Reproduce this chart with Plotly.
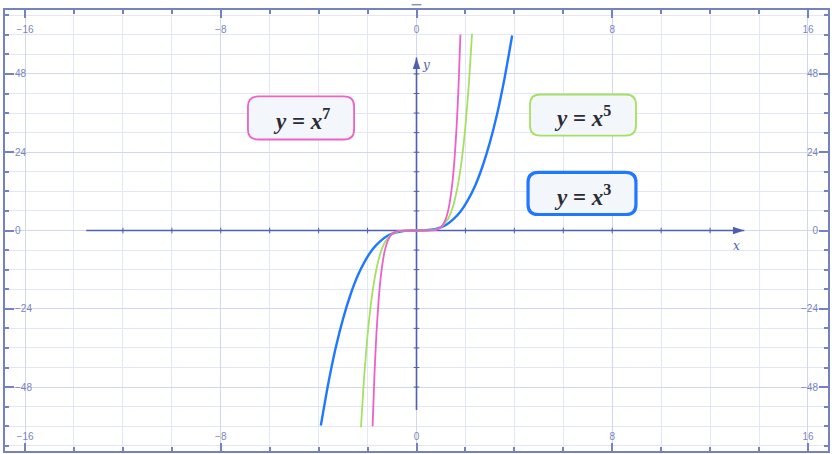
import plotly.graph_objects as go

# curve samples (x, y) for y = x^3, x^5, x^7
cube_x = [-3.91, -3.6, -3.3, -3.0, -2.7, -2.4, -2.1, -1.8, -1.5, -1.2, -0.9, -0.6, -0.3, 0.0,
          0.3, 0.6, 0.9, 1.2, 1.5, 1.8, 2.1, 2.4, 2.7, 3.0, 3.3, 3.6, 3.91]
cube_y = [-59.8, -46.7, -35.9, -27.0, -19.7, -13.8, -9.3, -5.8, -3.4, -1.7, -0.73, -0.22, -0.03, 0.0,
          0.03, 0.22, 0.73, 1.7, 3.4, 5.8, 9.3, 13.8, 19.7, 27.0, 35.9, 46.7, 59.8]

fifth_x = [-2.27, -2.15, -2.0, -1.85, -1.7, -1.5, -1.3, -1.0, -0.7, -0.4, 0.0,
           0.4, 0.7, 1.0, 1.3, 1.5, 1.7, 1.85, 2.0, 2.15, 2.27]
fifth_y = [-60.3, -45.9, -32.0, -21.7, -14.2, -7.6, -3.7, -1.0, -0.17, -0.01, 0.0,
           0.01, 0.17, 1.0, 3.7, 7.6, 14.2, 21.7, 32.0, 45.9, 60.3]

seventh_x = [-1.795, -1.72, -1.64, -1.55, -1.45, -1.3, -1.15, -1.0, -0.8, -0.5, 0.0,
             0.5, 0.8, 1.0, 1.15, 1.3, 1.45, 1.55, 1.64, 1.72, 1.795]
seventh_y = [-60.0, -44.5, -31.9, -21.5, -13.5, -6.3, -2.7, -1.0, -0.21, -0.01, 0.0,
             0.01, 0.21, 1.0, 2.7, 6.3, 13.5, 21.5, 31.9, 44.5, 60.0]

x_ticks = [-16, -8, 0, 8, 16]
y_ticks = [-48, -24, 0, 24, 48]
axis_x_marks = [-12, -10, -8, -6, -4, -2, 2, 4, 6, 8, 10, 12]
axis_y_marks = [-48, -42, -36, -30, -24, -18, -12, -6, 6, 12, 18, 24, 30, 36, 42, 48]

X_RANGE = [-16.82, 16.82]
Y_RANGE = [-67.6, 67.6]
AXIS_X_START, AXIS_X_END = -13.5, 13.4
AXIS_Y_BOTTOM, AXIS_Y_TOP = -55.0, 53.0

C_FRAME = "#7482c2"
C_AXIS = "#4f5fae"
C_LABEL = "#7b85c0"
C_GRID = "#e3e6f4"
C_GRID_MAJOR = "#d2d7ee"
C_BLUE = "#1f78ff"
C_GREEN = "#a3e063"
C_PINK = "#ec62c6"

fig = go.Figure()

# central axis lines, small tick marks and arrowheads
fig.add_trace(go.Scatter(x=[AXIS_X_START, AXIS_X_END], y=[0, 0], mode="lines",
                         line=dict(color=C_AXIS, width=1.6), hoverinfo="skip"))
fig.add_trace(go.Scatter(x=[0, 0], y=[AXIS_Y_BOTTOM, AXIS_Y_TOP], mode="lines",
                         line=dict(color=C_AXIS, width=1.6), hoverinfo="skip"))
fig.add_trace(go.Scatter(x=axis_x_marks, y=[0] * len(axis_x_marks), mode="markers",
                         marker=dict(symbol="line-ns", size=4, line=dict(color=C_AXIS, width=1)),
                         hoverinfo="skip"))
fig.add_trace(go.Scatter(x=[0] * len(axis_y_marks), y=axis_y_marks, mode="markers",
                         marker=dict(symbol="line-ew", size=4, line=dict(color=C_AXIS, width=1)),
                         hoverinfo="skip", xaxis="x2", yaxis="y2"))
fig.add_trace(go.Scatter(x=[AXIS_X_END, 0], y=[0, AXIS_Y_TOP], mode="markers",
                         marker=dict(symbol="arrow", size=12, angle=[90, 0], color=C_AXIS,
                                     line=dict(width=0)),
                         hoverinfo="skip"))

for xs, ys, col, w in [(cube_x, cube_y, C_BLUE, 2.4),
                       (fifth_x, fifth_y, C_GREEN, 1.8),
                       (seventh_x, seventh_y, C_PINK, 1.8)]:
    fig.add_trace(go.Scatter(x=xs, y=ys, mode="lines",
                             line=dict(color=col, width=w, shape="spline", smoothing=0.6),
                             hoverinfo="skip"))


def rounded_box(x0, x1, y0, y1, rx=0.42, ry=3.1):
    return (f"M {x0 + rx},{y1} L {x1 - rx},{y1} Q {x1},{y1} {x1},{y1 - ry} "
            f"L {x1},{y0 + ry} Q {x1},{y0} {x1 - rx},{y0} L {x0 + rx},{y0} "
            f"Q {x0},{y0} {x0},{y0 + ry} L {x0},{y1 - ry} Q {x0},{y1} {x0 + rx},{y1} Z")


def formula(n):
    return f"<b><i>y</i>&nbsp;=&nbsp;<i>x</i><sup>{n}</sup></b>"


boxes = [
    ((-6.89, -2.55, 27.9, 41.1), C_PINK, 1.8, formula(7)),
    ((4.64, 8.97, 29.1, 41.7), C_GREEN, 1.8, formula(5)),
    ((4.56, 8.97, 4.9, 17.8), C_BLUE, 3.2, formula(3)),
]
for (x0, x1, y0, y1), col, w, label in boxes:
    fig.add_shape(type="path", path=rounded_box(x0, x1, y0, y1), xref="x", yref="y",
                  line=dict(color=col, width=w), fillcolor="#f3f6fa", layer="above")
    fig.add_annotation(x=(x0 + x1) / 2, y=(y0 + y1) / 2 - 0.5, text=label, showarrow=False,
                       font=dict(family="Liberation Serif", size=23, color="#2b2b35"))

fig.add_annotation(x=13.1, y=-4.6, text="<i>x</i>", showarrow=False,
                   font=dict(family="DejaVu Serif", size=12, color=C_AXIS))
fig.add_annotation(x=0.38, y=50.6, text="<i>y</i>", showarrow=False,
                   font=dict(family="DejaVu Serif", size=12, color=C_AXIS))

# small dash above the frame
fig.add_shape(type="line", x0=-0.2, x1=0.2, y0=1.012, y1=1.012, xref="x", yref="paper",
              line=dict(color="#8a91b4", width=1.5))

tick_font = dict(family="Liberation Sans", size=10, color=C_LABEL)
common_x = dict(range=X_RANGE, tickvals=x_ticks, ticks="inside", ticklen=8, tickwidth=1.5,
                tickcolor=C_FRAME, showline=True, linecolor=C_FRAME, linewidth=2,
                ticklabelposition="inside", ticklabeloverflow="allow", tickfont=tick_font,
                zeroline=False)
common_y = dict(range=Y_RANGE, tickvals=y_ticks, ticks="inside", ticklen=9, tickwidth=1.5,
                tickcolor=C_FRAME, showline=True, linecolor=C_FRAME, linewidth=2,
                ticklabelposition="inside", ticklabeloverflow="allow", tickfont=tick_font,
                zeroline=False)

fig.update_layout(
    width=832,
    height=454,
    margin=dict(l=5, r=4, t=10, b=3),
    paper_bgcolor="white",
    plot_bgcolor="white",
    showlegend=False,
    xaxis=dict(**common_x, side="bottom", showgrid=True, gridcolor=C_GRID_MAJOR, gridwidth=1,
               minor=dict(dtick=2, tick0=0, ticks="inside", ticklen=4, tickcolor=C_FRAME,
                          showgrid=True, gridcolor=C_GRID)),
    yaxis=dict(**common_y, side="left", showgrid=True, gridcolor=C_GRID_MAJOR, gridwidth=1,
               minor=dict(dtick=6, tick0=0, ticks="inside", ticklen=4, tickcolor=C_FRAME,
                          showgrid=True, gridcolor=C_GRID)),
    xaxis2=dict(**common_x, side="top", overlaying="x", showgrid=False, ticklabelstandoff=7,
                minor=dict(dtick=2, tick0=0, ticks="inside", ticklen=4, tickcolor=C_FRAME)),
    yaxis2=dict(**common_y, side="right", overlaying="y", showgrid=False,
                minor=dict(dtick=6, tick0=0, ticks="inside", ticklen=4, tickcolor=C_FRAME)),
)

# drop the browser's default page margin so the figure sits at the window's corner
fig.write_html("out.html", config={"displayModeBar": False},
               post_script="document.body.style.margin='0';")
